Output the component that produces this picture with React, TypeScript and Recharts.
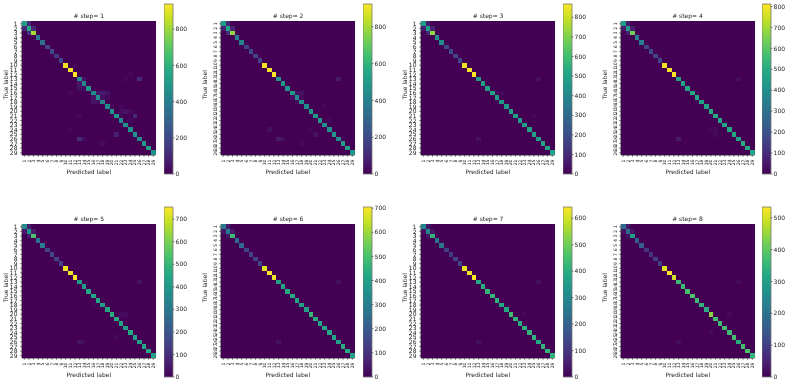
import { ScatterChart, Scatter, XAxis, YAxis, ReferenceArea, BarChart, Bar } from 'recharts';

const labels = Array.from({ length: 29 }, (_, i) => i + 1);

const TEXT = '#222';
const EDGE = '#777';

const VIRIDIS = [
  [68, 1, 84], [72, 36, 117], [65, 68, 135], [53, 95, 141], [42, 120, 142], [33, 145, 140],
  [34, 168, 132], [68, 191, 112], [122, 209, 81], [189, 223, 38], [253, 231, 37],
];

const colorFor = (t: number) => {
  const pos = Math.max(0, Math.min(1, t)) * 10;
  const i = Math.min(9, Math.floor(pos));
  const f = pos - i;
  const c = VIRIDIS[i].map((v, k) => Math.round(v + (VIRIDIS[i + 1][k] - v) * f));
  return `rgb(${c[0]},${c[1]},${c[2]})`;
};

// diagonal counts
const diag1 = [520, 545, 815, 375, 345, 190, 205, 160, 190, 910, 925, 939, 440, 440, 490, 450, 470, 420, 450, 470, 490, 440, 470, 470, 470, 440, 500, 520, 470];
const diag2 = [505, 535, 770, 390, 415, 185, 205, 185, 185, 905, 905, 924, 480, 480, 480, 490, 460, 460, 460, 480, 490, 490, 460, 460, 490, 445, 510, 525, 460];
const diag3 = [480, 480, 720, 410, 415, 200, 200, 175, 175, 840, 850, 868, 470, 480, 490, 500, 480, 460, 470, 480, 490, 470, 480, 490, 500, 480, 500, 510, 490];
const diag4 = [445, 430, 635, 340, 340, 165, 180, 165, 165, 790, 795, 812, 470, 470, 480, 490, 490, 460, 470, 490, 500, 480, 470, 490, 480, 470, 500, 490, 470];
const diag5 = [360, 375, 540, 285, 315, 150, 165, 150, 150, 740, 740, 754, 420, 420, 450, 450, 450, 420, 440, 470, 460, 440, 430, 450, 430, 430, 450, 440, 430];
const diag6 = [280, 280, 480, 245, 245, 140, 140, 140, 140, 670, 705, 685, 400, 410, 430, 430, 410, 400, 400, 470, 440, 420, 420, 430, 420, 400, 440, 430, 400];
const diag7 = [290, 290, 420, 245, 255, 115, 115, 130, 130, 625, 630, 643, 390, 400, 420, 420, 410, 390, 390, 440, 420, 400, 410, 420, 410, 390, 420, 420, 410];
const diag8 = [185, 175, 295, 160, 160, 80, 80, 95, 95, 510, 534, 500, 360, 365, 375, 385, 365, 345, 330, 440, 375, 365, 375, 365, 375, 330, 375, 385, 345];

// stray off-diagonal counts as [true label, predicted label, count]
const off1 = [
  [1, 2, 110], [2, 1, 110], [2, 3, 110], [3, 2, 130], [13, 14, 45], [13, 26, 120], [14, 13, 55], [15, 13, 45], [15, 14, 25],
  [16, 17, 60], [16, 18, 70], [16, 19, 50], [17, 16, 45], [17, 18, 35], [17, 19, 20], [18, 16, 45], [18, 17, 35], [19, 20, 18], [19, 22, 20],
  [20, 22, 30], [20, 23, 45], [20, 24, 30], [21, 25, 110], [21, 22, 20], [22, 24, 25], [25, 21, 80], [26, 13, 120], [26, 14, 30], [27, 18, 30],
  [10, 12, 20], [12, 24, 18], [13, 23, 20], [21, 13, 20], [16, 11, 20], [24, 11, 20],
];
const off2 = [
  [1, 2, 100], [2, 1, 90], [2, 3, 90], [3, 2, 120], [13, 26, 65], [16, 17, 45], [16, 18, 45], [17, 16, 35], [17, 18, 18], [18, 17, 20],
  [22, 24, 20], [25, 21, 45], [26, 13, 70], [26, 14, 35], [24, 11, 35], [24, 20, 20], [19, 23, 18], [27, 18, 18],
];
const off3 = [
  [1, 2, 70], [2, 1, 70], [2, 3, 80], [3, 2, 95], [13, 26, 35], [16, 17, 18], [16, 18, 18], [18, 17, 18], [26, 13, 40], [21, 25, 15],
];
const off4 = [
  [1, 2, 60], [2, 1, 60], [2, 3, 70], [3, 2, 75], [13, 26, 30], [16, 17, 15], [18, 17, 15], [24, 20, 18], [24, 21, 15], [25, 21, 18], [26, 13, 60],
];
const off5 = [
  [1, 2, 60], [2, 1, 50], [2, 3, 60], [3, 2, 60], [13, 26, 38], [18, 16, 15], [20, 22, 18], [20, 23, 22], [25, 21, 18], [26, 13, 42], [26, 14, 15],
];
const off6 = [
  [1, 2, 50], [2, 1, 40], [2, 3, 50], [3, 2, 45], [13, 26, 28], [26, 13, 32],
];
const off7 = [
  [1, 2, 40], [2, 1, 30], [2, 3, 40], [3, 2, 40], [13, 26, 28], [26, 13, 28], [20, 23, 12],
];
const off8 = [
  [1, 2, 35], [2, 1, 25], [2, 3, 30], [3, 2, 25], [13, 26, 16], [20, 24, 10], [24, 20, 12], [26, 13, 20],
];

const diags = [diag1, diag2, diag3, diag4, diag5, diag6, diag7, diag8];
const offs = [off1, off2, off3, off4, off5, off6, off7, off8];
const maxima = [939, 924, 868, 812, 754, 705, 643, 534];
const barTicks = [
  [0, 200, 400, 600, 800],
  [0, 200, 400, 600, 800],
  [0, 100, 200, 300, 400, 500, 600, 700, 800],
  [0, 100, 200, 300, 400, 500, 600, 700, 800],
  [0, 100, 200, 300, 400, 500, 600, 700],
  [0, 100, 200, 300, 400, 500, 600, 700],
  [0, 100, 200, 300, 400, 500, 600],
  [0, 100, 200, 300, 400, 500],
];
const panelLeft = [22, 221.3, 421.3, 620.7];
const rowTop = [21.5, 224.3];

const PLOT = 133.6;
const CELL = PLOT / 29;

const buildCells = (step: number) => {
  const diag = diags[step];
  const off = offs[step];
  const cells = [];
  for (const r of labels) {
    for (const c of labels) {
      let v = r === c ? diag[r - 1] : 0;
      const hit = off.find((o) => o[0] === r && o[1] === c);
      if (hit) v = hit[2];
      cells.push({ col: c, row: r, count: v });
    }
  }
  return cells;
};

const XTick = ({ x, y, payload }: any) => (
  <text
    transform={`translate(${x + 1.6},${y + 0.5}) rotate(-90)`}
    textAnchor="end"
    fontSize={4.6}
    fill={TEXT}
    fontFamily="DejaVu Sans"
  >
    {payload.value}
  </text>
);

const YTickFlat = ({ x, y, payload }: any) => (
  <text x={x - 0.5} y={y + 2.2} textAnchor="end" fontSize={6} fill={TEXT} fontFamily="DejaVu Sans">
    {payload.value}
  </text>
);

const YTickUp = ({ x, y, payload }: any) => (
  <text
    transform={`translate(${x},${y}) rotate(-90)`}
    textAnchor="middle"
    fontSize={4.6}
    fill={TEXT}
    fontFamily="DejaVu Sans"
  >
    {payload.value}
  </text>
);

const HeatCell = ({ cx, cy, payload, max }: any) => (
  <rect
    x={cx - CELL / 2}
    y={cy - CELL / 2}
    width={CELL}
    height={CELL}
    fill={colorFor(payload.count / max)}
    shapeRendering="crispEdges"
  />
);

function Heatmap({ step, flatLabels }: { step: number; flatLabels: boolean }) {
  const max = maxima[step];
  return (
    <ScatterChart width={158} height={176} margin={{ top: 21.5, left: 0, right: 2.4, bottom: 0 }}>
      <XAxis
        type="number"
        dataKey="col"
        domain={[0.5, 29.5]}
        ticks={labels}
        interval={0}
        height={21}
        tick={<XTick />}
        tickSize={2}
        stroke={TEXT}
        strokeWidth={0.5}
        label={{ value: 'Predicted label', position: 'insideBottom', fontSize: 6, fill: TEXT, fontFamily: 'DejaVu Sans', offset: 2 }}
      />
      <YAxis
        type="number"
        dataKey="row"
        reversed
        domain={[0.5, 29.5]}
        ticks={labels}
        interval={0}
        width={22}
        tick={flatLabels ? <YTickFlat /> : <YTickUp />}
        tickSize={2}
        stroke={TEXT}
        strokeWidth={0.5}
        label={{ value: 'True label', angle: -90, position: 'insideLeft', fontSize: 6, fill: TEXT, fontFamily: 'DejaVu Sans', offset: 6, dy: 11 }}
      />
      <Scatter data={buildCells(step)} isAnimationActive={false} shape={(p: any) => <HeatCell {...p} max={max} />} />
      <ReferenceArea x1={0.5} x2={29.5} y1={0.5} y2={29.5} fill="none" stroke={EDGE} strokeWidth={0.8} ifOverflow="visible" />
    </ScatterChart>
  );
}

function ColorBar({ step }: { step: number }) {
  const max = maxima[step];
  const id = `viridis-${step}`;
  return (
    <BarChart
      width={34}
      height={178}
      data={[{ name: 'count', value: max }]}
      margin={{ top: 4, left: 0, right: 0, bottom: 4 }}
      barCategoryGap={0}
    >
      <defs>
        <linearGradient id={id} x1="0" y1="1" x2="0" y2="0">
          {VIRIDIS.map((c, i) => (
            <stop key={i} offset={`${i * 10}%`} stopColor={`rgb(${c[0]},${c[1]},${c[2]})`} />
          ))}
        </linearGradient>
      </defs>
      <XAxis dataKey="name" hide />
      <YAxis
        orientation="right"
        domain={[0, max]}
        ticks={barTicks[step]}
        interval={0}
        width={25.4}
        tickSize={2}
        tickMargin={1}
        stroke={TEXT}
        strokeWidth={0.5}
        axisLine={false}
        tick={{ fontSize: 6, fill: TEXT, fontFamily: 'DejaVu Sans' }}
      />
      <Bar dataKey="value" fill={`url(#${id})`} stroke={EDGE} strokeWidth={0.8} isAnimationActive={false} />
    </BarChart>
  );
}

export default function App() {
  return (
    <div style={{ position: 'absolute', left: 0, top: 0, width: 789, height: 382, background: '#fff', overflow: 'hidden', filter: 'blur(0.4px)' }}>
      {diags.map((_, step) => {
        const col = step % 4;
        const row = step < 4 ? 0 : 1;
        const left = panelLeft[col];
        const top = rowTop[row];
        return (
          <div key={step}>
            <div
              style={{
                position: 'absolute',
                left: left,
                top: top - 9.5,
                width: PLOT,
                textAlign: 'center',
                fontSize: 6,
                lineHeight: '8px',
                color: TEXT,
                fontFamily: 'DejaVu Sans',
                whiteSpace: 'pre',
              }}
            >
              {`# step= ${step + 1}`}
            </div>
            <div style={{ position: 'absolute', left: left - 22, top: top - 21.5 }}>
              <Heatmap step={step} flatLabels={step % 2 === 0} />
            </div>
            <div style={{ position: 'absolute', left: left + 141.7, top: top - 21.8 }}>
              <ColorBar step={step} />
            </div>
          </div>
        );
      })}
    </div>
  );
}
